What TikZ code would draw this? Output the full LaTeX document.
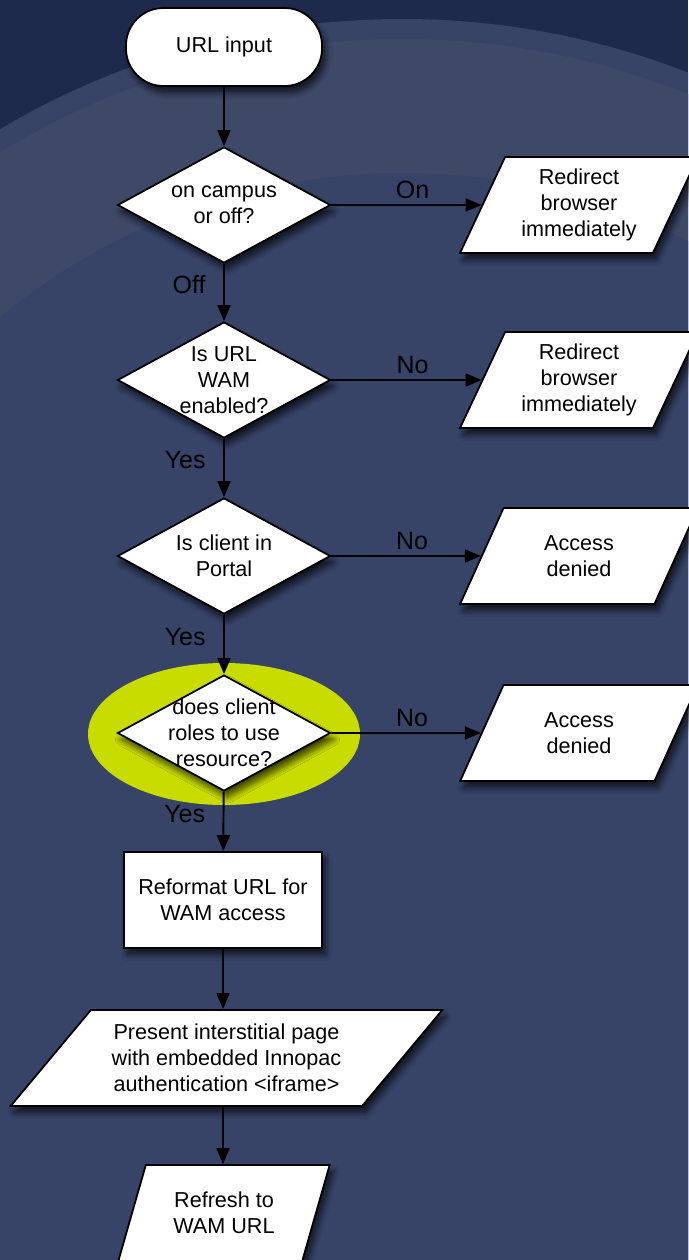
\documentclass[tikz,border=0pt]{standalone}
\usepackage{fontspec}
\setmainfont{Liberation Sans}
\usetikzlibrary{shapes}
\usetikzlibrary{shapes.geometric}
\usetikzlibrary{arrows.meta}
\usetikzlibrary{shadows.blur}
\definecolor{bgdark}{RGB}{30,42,75}
\definecolor{bgring}{RGB}{56,68,102}
\definecolor{bgband}{RGB}{62,73,104}
\definecolor{bgbody}{RGB}{55,68,104}
\definecolor{hilite}{RGB}{201,220,0}
\tikzset{
    dropsh/.style = {blur shadow={shadow xshift=0.07cm, shadow yshift=-0.13cm, shadow blur radius=0.12cm, shadow blur steps=8, shadow opacity=70}},
    startnode/.style = {rectangle, rounded corners=0.75cm, line width=1pt, draw=black, fill=white, minimum width=3.92cm, minimum height=1.56cm, dropsh},
    decision/.style = {diamond, line width=1pt, draw=black, fill=white, inner sep=0pt, minimum width=4.26cm, minimum height=2.32cm, dropsh},
    dtext/.style = {align=center, inner sep=0pt},
    procbox/.style = {rectangle, line width=1pt, draw=black, fill=white, align=center, minimum width=3.96cm, minimum height=1.92cm, dropsh},
    iobox/.style = {trapezium, trapezium stretches=true, trapezium left angle=64, trapezium right angle=116, line width=1pt, draw=black, fill=white, align=center, inner sep=0pt, minimum width=4.76cm, minimum height=1.92cm, dropsh},
    edgen/.style = {-{Triangle[length=0.32cm,width=0.26cm]}, line width=1.1pt, black},
    lblup/.style = {above, inner sep=2.8pt, pos=0.54, font=\fontsize{14.2}{16}\selectfont},
    lblleft/.style = {left=0.35cm, inner sep=0pt, pos=0.37, font=\fontsize{14.2}{16}\selectfont},
}

\begin{document}
\begin{tikzpicture}[scale=1.00,transform shape,font=\fontsize{12.3}{14.8}\selectfont]
% background
\useasboundingbox (0,0) rectangle (13.76,-25.2);
\fill[bgdark] (0,0) rectangle (13.76,-25.2);
\begin{scope}
\clip (0,0) rectangle (13.76,-25.2);
\fill[bgring] (8.04,-16.12) circle (15.74);
\fill[bgband] (8.04,-16.12) circle (15.34);
\fill[bgbody] (8.04,-16.12) circle (12.66);
\end{scope}
\fill[hilite] (4.48,-14.68) ellipse (2.72 and 1.42);

\node[startnode] at (4.48,-0.94) (url) {URL input};
\node[decision, label={[dtext]center:on campus\\or off?}] at (4.48,-4.10) (q1) {};
\node[decision, label={[dtext]center:Is URL\\WAM\\enabled?}] at (4.48,-7.60) (q2) {};
\node[decision, label={[dtext]center:Is client in\\Portal}] at (4.48,-11.12) (q3) {};
\node[decision, label={[dtext]center:does client\\roles to use\\resource?}] at (4.48,-14.66) (q4) {};
\node[procbox] at (4.46,-18.00) (fmt) {Reformat URL for\\WAM access};
\node[iobox, minimum width=8.64cm, trapezium left angle=45, trapezium right angle=135] at (4.53,-21.16) (page) {Present interstitial page\\with embedded Innopac\\authentication <iframe>};
\node[iobox, minimum width=4.24cm, trapezium left angle=67, trapezium right angle=113] at (4.48,-24.26) (wam) {Refresh to\\WAM URL};
%
\node[iobox] at (11.58,-4.10) (r1) {Redirect\\browser\\immediately};
\node[iobox] at (11.58,-7.60) (r2) {Redirect\\browser\\immediately};
\node[iobox] at (11.58,-11.12) (r3) {Access\\denied};
\node[iobox] at (11.58,-14.66) (r4) {Access\\denied};
%
\draw[edgen] (url) -- (q1);
\draw[edgen] (q1) -- node[lblleft] {Off} (q2);
\draw[edgen] (q2) -- node[lblleft] {Yes} (q3);
\draw[edgen] (q3) -- node[lblleft] {Yes} (q4);
\draw[edgen] (q4) -- node[lblleft] {Yes} (fmt);
\draw[edgen] (fmt.south) -- (page.north -| fmt.south);
\draw[edgen] (page.south -| fmt.south) -- (wam.north -| fmt.south);
%
\draw[edgen] (q1) -- node[lblup] {On} (r1);
\draw[edgen] (q2) -- node[lblup] {No} (r2);
\draw[edgen] (q3) -- node[lblup] {No} (r3);
\draw[edgen] (q4) -- node[lblup] {No} (r4);

\end{tikzpicture}
\end{document}
